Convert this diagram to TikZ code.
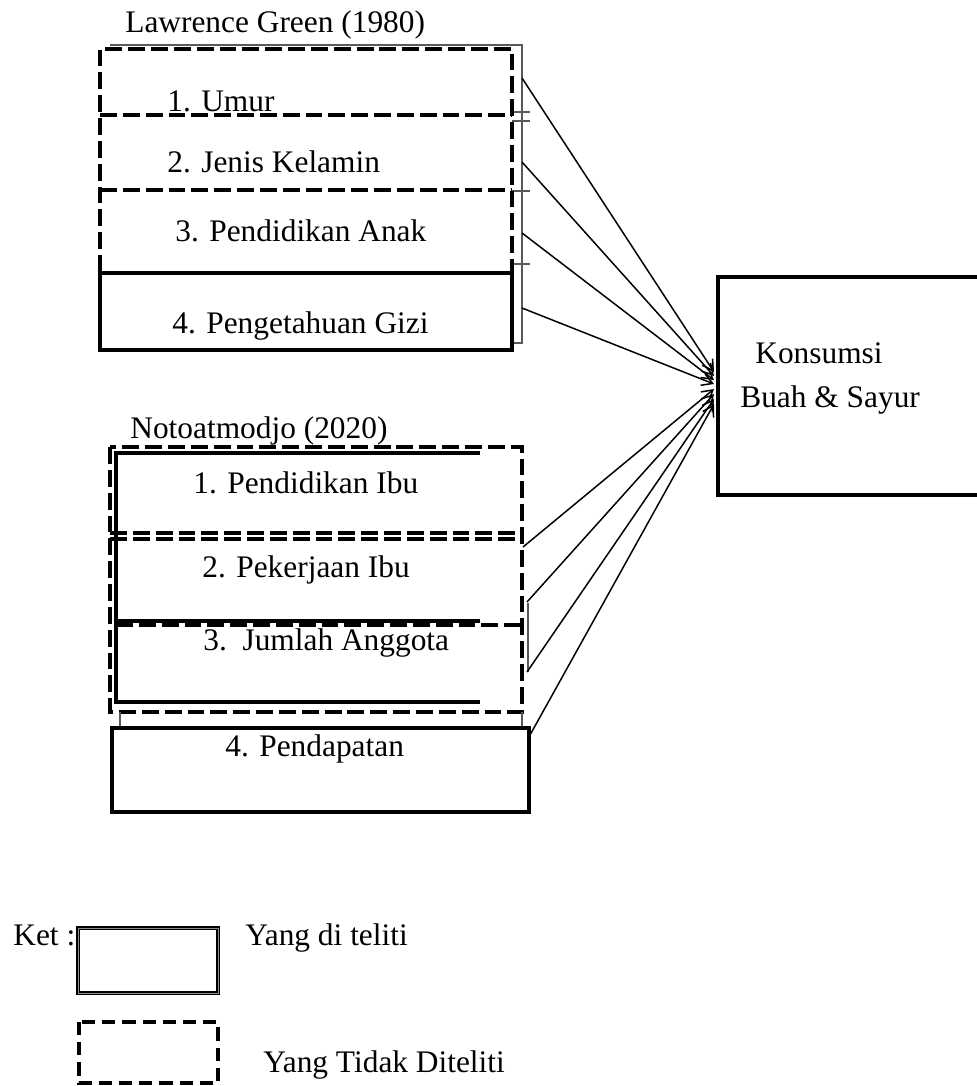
\documentclass[tikz,border=0pt]{standalone}
\usepackage{fontspec}
\setmainfont{Liberation Serif}
\usetikzlibrary{arrows.meta}

\begin{document}
\begin{tikzpicture}[x=0.02cm, y=-0.02cm,
  lbl/.style={anchor=base west, inner sep=0pt, font=\fontsize{17.86}{21}\selectfont},
  dashbox/.style={line width=2.8pt, dash pattern=on 9.6pt off 3.4pt},
  legdash/.style={line width=2.8pt, dash pattern=on 7.5pt off 4pt},
  solidbox/.style={line width=2.8pt},
  frameline/.style={line width=0.6pt, black!65},
  link/.style={line width=0.85pt, -{Straight Barb[length=6pt,width=7pt]}}]

\useasboundingbox (0,0) rectangle (977,1086);

\node[lbl] (green) at (125,32) {Lawrence Green (1980)};
\draw[frameline] (110,45) -- (522,45) -- (522,343) -- (514,343);
\foreach \y in {112,121,191,264}
\draw[frameline] (512,\y) -- (530,\y);
\draw[dashbox] (100,272) -- (100,49) -- (512,49) -- (512,272);
\draw[dashbox] (100,115) -- (512,115);
\draw[dashbox] (100,190) -- (512,190);
\draw[solidbox] (100,273) rectangle (512,350);

\node[lbl] (umur) at (167,111) {1. Umur};
\node[lbl] (kelamin) at (167,172) {2. Jenis Kelamin};
\node[lbl] (anak) at (175,241) {3. Pendidikan Anak};
\node[lbl] (gizi) at (172,333) {4. Pengetahuan Gizi};

\node[lbl] (noto) at (130,438) {Notoatmodjo (2020)};
\draw[dashbox] (110,447) rectangle (522,712);
\draw[dashbox] (110,533) -- (522,533);
\draw[dashbox] (110,539) -- (522,539);
\draw[dashbox] (116,625) -- (522,625);
\draw[solidbox] (480,453) -- (116,453) -- (116,704);
\draw[solidbox] (116,621) -- (480,621);
\draw[solidbox] (116,702) -- (480,702);
\draw[frameline] (528,603) -- (528,672);
\draw[frameline] (120,712) -- (120,728);
\draw[frameline] (522,712) -- (522,728);
\draw[solidbox] (112,728) rectangle (529,812);

\node[lbl] (ibu) at (193,493) {1. Pendidikan Ibu};
\node[lbl] (kerja) at (202,577) {2. Pekerjaan Ibu};
\node[lbl] (anggota) at (203,650) {3.\ \ Jumlah Anggota};
\node[lbl] (dapat) at (225,756) {4. Pendapatan};

\draw[solidbox] (977,277) -- (718,277) -- (718,495) -- (977,495);
\node[lbl] (konsumsi) at (755,363) {Konsumsi};
\node[lbl] (sayur) at (740,407) {Buah \& Sayur};

\coordinate (g1) at (522,78);
\coordinate (g2) at (522,162);
\coordinate (g3) at (522,233);
\coordinate (g4) at (522,308);
\coordinate (n1) at (523,547);
\coordinate (n2) at (527,602);
\coordinate (n3) at (527,672);
\coordinate (n4) at (530,735);
\coordinate (t1) at (714,372);
\coordinate (t2) at (714,376);
\coordinate (t3) at (714,380);
\coordinate (t4) at (714,384);
\coordinate (t5) at (714,389);
\coordinate (t6) at (714,394);
\coordinate (t7) at (714,399);
\coordinate (t8) at (714,404);

\draw[link] (g1) -- (t1);
\draw[link] (g2) -- (t2);
\draw[link] (g3) -- (t3);
\draw[link] (g4) -- (t4);
\draw[link] (n1) -- (t5);
\draw[link] (n2) -- (t6);
\draw[link] (n3) -- (t7);
\draw[link] (n4) -- (t8);

\node[lbl] (ket) at (13,945) {Ket :};
\draw[line width=1.1pt, double=black!45, double distance=0.4pt] (78,928) rectangle (218,993);
\node[lbl] (diteliti) at (245,945) {Yang di teliti};
\draw[legdash] (79,1022) rectangle (218,1083);
\node[lbl] (tidak) at (263,1072) {Yang Tidak Diteliti};
\end{tikzpicture}
\end{document}
